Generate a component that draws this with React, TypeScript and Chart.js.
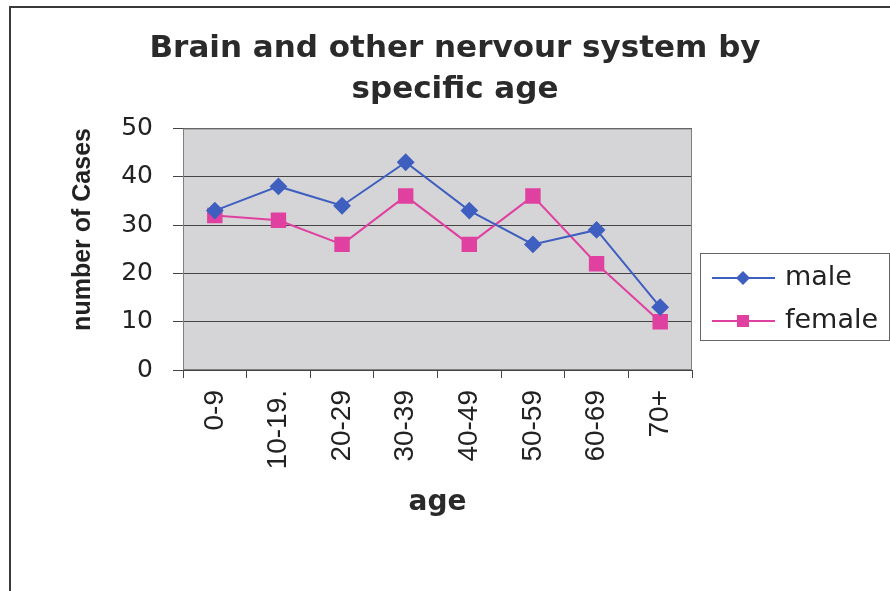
import React, { useEffect, useRef } from "react";
import { Chart, registerables } from "chart.js";

Chart.register(...registerables);

const categories = ["0-9", "10-19.", "20-29", "30-39", "40-49", "50-59", "60-69", "70+"];
const maleValues = [33, 38, 34, 43, 33, 26, 29, 13];
const femaleValues = [32, 31, 26, 36, 26, 36, 22, 10];
const seriesNames = ["male", "female"];
const titleLines = ["Brain and other nervour system by", "specific age"];
const yTitle = "number of Cases";
const xTitle = "age";

const MALE = "#3f5fc0";
const FEMALE = "#e040a0";

const plotBgPlugin = {
  id: "plotBg",
  beforeDraw(chart: any) {
    const { ctx, chartArea } = chart;
    ctx.save();
    ctx.fillStyle = "#d5d4d6";
    ctx.fillRect(chartArea.left, chartArea.top, chartArea.right - chartArea.left, chartArea.bottom - chartArea.top);
    ctx.restore();
  },
};

const borderPlugin = {
  id: "plotBorder",
  beforeDatasetsDraw(chart: any) {
    const { ctx, chartArea } = chart;
    ctx.save();
    ctx.strokeStyle = "#808080";
    ctx.lineWidth = 1;
    ctx.strokeRect(chartArea.left + 0.5, chartArea.top + 0.5, chartArea.right - chartArea.left - 1, chartArea.bottom - chartArea.top - 1);
    ctx.restore();
  },
};

const yTitlePlugin = {
  id: "yTitle",
  afterDraw(chart: any) {
    const { ctx, chartArea } = chart;
    ctx.save();
    ctx.translate(83, chartArea.top + 101);
    ctx.rotate(-Math.PI / 2);
    ctx.font = "bold 25px 'Liberation Sans', Arial, sans-serif";
    ctx.fillStyle = "#222";
    ctx.textAlign = "center";
    ctx.textBaseline = "middle";
    ctx.fillText(yTitle, 0, 0);
    ctx.restore();
  },
};

const legendPlugin = {
  id: "boxLegend",
  afterDraw(chart: any) {
    const { ctx, chartArea } = chart;
    const bx = chartArea.right + 8;
    const by = 253;
    const bw = 189;
    const bh = 87;
    ctx.save();
    ctx.fillStyle = "#ffffff";
    ctx.fillRect(bx, by, bw, bh);
    ctx.strokeStyle = "#666";
    ctx.lineWidth = 1;
    ctx.strokeRect(bx + 0.5, by + 0.5, bw, bh);
    chart.data.datasets.forEach((ds: any, i: number) => {
      const y = by + 25 + i * 43;
      ctx.strokeStyle = ds.borderColor;
      ctx.lineWidth = 2;
      ctx.beginPath();
      ctx.moveTo(bx + 12, y);
      ctx.lineTo(bx + 75, y);
      ctx.stroke();
      ctx.fillStyle = ds.pointBackgroundColor;
      const mx = bx + 43;
      if (ds.pointStyle === "rectRot") {
        const r = 7;
        ctx.beginPath();
        ctx.moveTo(mx - r, y);
        ctx.lineTo(mx, y - r);
        ctx.lineTo(mx + r, y);
        ctx.lineTo(mx, y + r);
        ctx.closePath();
        ctx.fill();
      } else {
        const s = 6;
        ctx.fillRect(mx - s, y - s, 2 * s, 2 * s);
      }
      ctx.fillStyle = "#222";
      ctx.font = "27px 'DejaVu Sans', sans-serif";
      ctx.textAlign = "left";
      ctx.textBaseline = "middle";
      ctx.fillText(ds.label, bx + 85, y);
    });
    ctx.restore();
  },
};

export default function App() {
  const ref = useRef<HTMLCanvasElement | null>(null);

  useEffect(() => {
    if (!ref.current) return;
    const chart = new Chart(ref.current, {
      type: "line",
      data: {
        labels: categories,
        datasets: [
          {
            label: seriesNames[0],
            data: maleValues,
            borderColor: MALE,
            backgroundColor: MALE,
            pointBackgroundColor: MALE,
            pointBorderColor: MALE,
            pointStyle: "rectRot",
            pointRadius: 7.5,
            borderWidth: 2,
            tension: 0,
            yAxisID: "y",
          },
          {
            label: seriesNames[1],
            data: femaleValues,
            borderColor: FEMALE,
            backgroundColor: FEMALE,
            pointBackgroundColor: FEMALE,
            pointBorderColor: FEMALE,
            pointStyle: "rect",
            pointRadius: 9.5,
            borderWidth: 2,
            tension: 0,
            yAxisID: "y",
          },
        ],
      },
      options: {
        responsive: false,
        animation: false,
        devicePixelRatio: 1,
        layout: { padding: { left: 20, right: 0, top: 0, bottom: 0 } },
        plugins: {
          legend: { display: false },
          tooltip: { enabled: false },
          title: {
            display: true,
            text: titleLines,
            color: "#2a2a2a",
            font: { family: "'DejaVu Sans', sans-serif", size: 31, weight: "bold", lineHeight: 1.33 },
            padding: { top: 28, bottom: 18 },
          },
        },
        scales: {
          x: {
            type: "category",
            offset: true,
            grid: {
              offset: true,
              drawOnChartArea: false,
              drawTicks: true,
              tickLength: 8,
              color: "#444",
            },
            border: { display: true, color: "#444", width: 1 },
            ticks: {
              autoSkip: false,
              minRotation: 90,
              maxRotation: 90,
              padding: 12,
              color: "#222",
              font: { family: "'Liberation Sans', Arial, sans-serif", size: 28 },
            },
            title: {
              display: true,
              text: xTitle,
              color: "#2a2a2a",
              font: { family: "'DejaVu Sans', sans-serif", size: 28, weight: "bold", lineHeight: 1.2 },
              padding: { top: 0, bottom: 71 },
            },
            afterFit(scale: any) {
              scale.height = 221;
            },
          },
          y: {
            position: "left",
            min: 0,
            max: 50,
            ticks: {
              stepSize: 10,
              padding: 20,
              color: "#222",
              font: { family: "'DejaVu Sans', sans-serif", size: 25 },
            },
            grid: {
              color: "#454545",
              lineWidth: 1,
              drawTicks: true,
              tickLength: 10,
            },
            border: { display: true, color: "#444", width: 1 },
            afterFit(scale: any) {
              scale.width = 163;
            },
          },
          y2: {
            position: "right",
            display: true,
            grid: { display: false },
            border: { display: false },
            ticks: { display: false },
            afterFit(scale: any) {
              scale.width = 198;
            },
          },
        },
      },
      plugins: [plotBgPlugin, borderPlugin, yTitlePlugin, legendPlugin],
    } as any);
    return () => chart.destroy();
  }, []);

  return (
    <div style={{ position: "fixed", left: 0, top: 0, width: 890, height: 591, background: "#ffffff", overflow: "hidden" }}>
      <div
        style={{
          position: "absolute",
          left: 9,
          top: 6,
          width: 900,
          height: 600,
          borderLeft: "2px solid #3a3a3a",
          borderTop: "2px solid #3a3a3a",
        }}
      />
      <canvas ref={ref} width={890} height={591} style={{ position: "absolute", left: 0, top: 0 }} />
    </div>
  );
}
